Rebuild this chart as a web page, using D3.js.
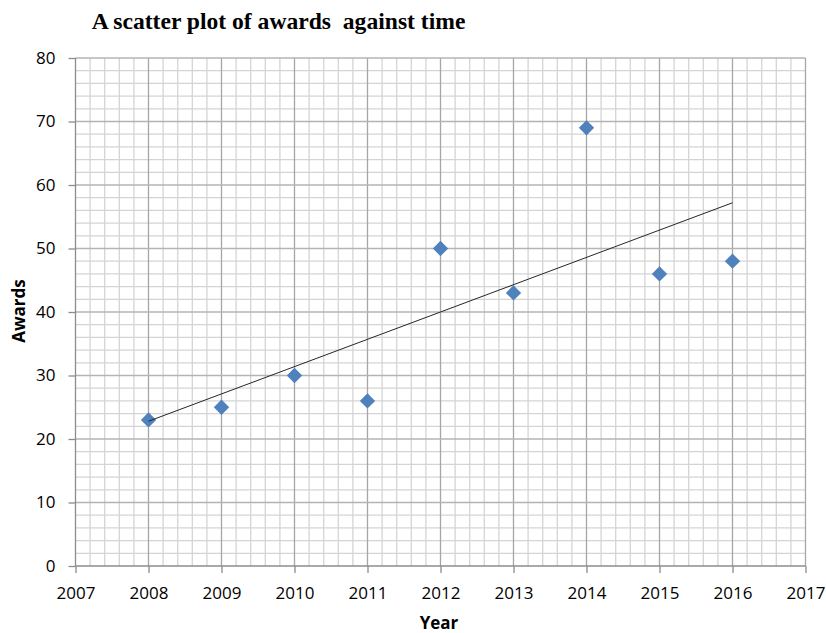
<!DOCTYPE html>
<html>
<head>
<meta charset="utf-8">
<script src="https://cdn.jsdelivr.net/npm/d3@7"></script>
<style>
  html, body { margin: 0; padding: 0; background: #fff; }
  svg { display: block; }
</style>
</head>
<body>
<svg id="chart" width="826" height="633"></svg>
<script>
// Awards won per year
const years  = [2008, 2009, 2010, 2011, 2012, 2013, 2014, 2015, 2016];
const awards = [23, 25, 30, 26, 50, 43, 69, 46, 48];
const xTicks = [2007, 2008, 2009, 2010, 2011, 2012, 2013, 2014, 2015, 2016, 2017];
const yTicks = [0, 10, 20, 30, 40, 50, 60, 70, 80];

const svg = d3.select("#chart");
const plotL = 75.5, plotR = 805.5, plotT = 58, plotB = 566;

const x = d3.scaleLinear().domain([2007, 2017]).range([plotL, plotR]);
const y = d3.scaleLinear().domain([0, 80]).range([plotB, plotT]);

// minor grid
const minorX = d3.range(2007, 2017.0001, 0.2).filter(v => Math.abs(v - Math.round(v)) > 1e-6);
const minorY = d3.range(0, 80.0001, 2).filter(v => v % 10 !== 0);
const grid = svg.append("g");
grid.selectAll(".mx").data(minorX).join("line")
  .attr("x1", d => x(d)).attr("x2", d => x(d))
  .attr("y1", plotT).attr("y2", plotB)
  .attr("stroke", "#d4d4d4").attr("stroke-width", 1.3);
grid.selectAll(".my").data(minorY).join("line")
  .attr("x1", plotL).attr("x2", plotR)
  .attr("y1", d => y(d)).attr("y2", d => y(d))
  .attr("stroke", "#d4d4d4").attr("stroke-width", 1.3);
// major grid
grid.selectAll(".Mx").data(xTicks.slice(1)).join("line")
  .attr("x1", d => x(d)).attr("x2", d => x(d))
  .attr("y1", plotT).attr("y2", plotB)
  .attr("stroke", "#a6a6a6").attr("stroke-width", 1.3);
grid.selectAll(".My").data(yTicks.slice(1)).join("line")
  .attr("x1", plotL).attr("x2", plotR)
  .attr("y1", d => y(d)).attr("y2", d => y(d))
  .attr("stroke", "#b4b4b4").attr("stroke-width", 1.3);

// axes
const xAxis = d3.axisBottom(x).tickValues(xTicks).tickFormat(d3.format("d")).tickSize(7).tickPadding(14);
const yAxis = d3.axisLeft(y).tickValues(yTicks).tickSize(7).tickPadding(13);

const gx = svg.append("g").attr("transform", `translate(0,${plotB})`).call(xAxis);
const gy = svg.append("g").attr("transform", `translate(${plotL},0)`).call(yAxis);
[gx, gy].forEach(g => {
  g.select(".domain").attr("stroke", "#8c8c8c").attr("stroke-width", 1.3);
  g.selectAll(".tick line").attr("stroke", "#8c8c8c").attr("stroke-width", 1.3);
  g.selectAll(".tick text")
    .attr("font-family", "'Open Sans', 'Liberation Sans', sans-serif")
    .attr("font-size", 17).attr("fill", "#000");
});
gy.select(".domain").attr("d", `M0,${plotT}V${plotB}`);
gx.select(".domain").attr("d", `M${plotL},0H${plotR}`);

// points
const pts = years.map((yr, i) => ({ yr, v: awards[i] }));
svg.append("g").selectAll("path").data(pts).join("path")
  .attr("d", d3.symbol(d3.symbolDiamond2, 150)())
  .attr("transform", d => `translate(${x(d.yr)},${y(d.v)})`)
  .attr("fill", "#4f81bd");

// least-squares trendline
const mx = d3.mean(years), my = d3.mean(awards);
const slope = d3.sum(years, (v, i) => (v - mx) * (awards[i] - my)) / d3.sum(years, v => (v - mx) ** 2);
const fit = v => my + slope * (v - mx);
const x0 = d3.min(years), x1 = d3.max(years);
svg.append("line")
  .attr("x1", x(x0)).attr("y1", y(fit(x0)))
  .attr("x2", x(x1)).attr("y2", y(fit(x1)))
  .attr("stroke", "#262626").attr("stroke-width", 1);

// titles
svg.append("text").attr("x", 278.5).attr("y", 28.5).attr("text-anchor", "middle")
  .attr("font-family", "'Liberation Serif', 'Times New Roman', serif")
  .attr("font-weight", "bold").attr("font-size", 23.6)
  .attr("xml:space", "preserve")
  .text("A scatter plot of awards  against time");

svg.append("text").attr("x", 439).attr("y", 629).attr("text-anchor", "middle")
  .attr("font-family", "'Open Sans', 'Liberation Sans', sans-serif")
  .attr("font-weight", "bold").attr("font-size", 17)
  .text("Year");

svg.append("text").attr("transform", "translate(25,311) rotate(-90)").attr("text-anchor", "middle")
  .attr("font-family", "'Open Sans', 'Liberation Sans', sans-serif")
  .attr("font-weight", "bold").attr("font-size", 17)
  .text("Awards");
</script>
</body>
</html>
